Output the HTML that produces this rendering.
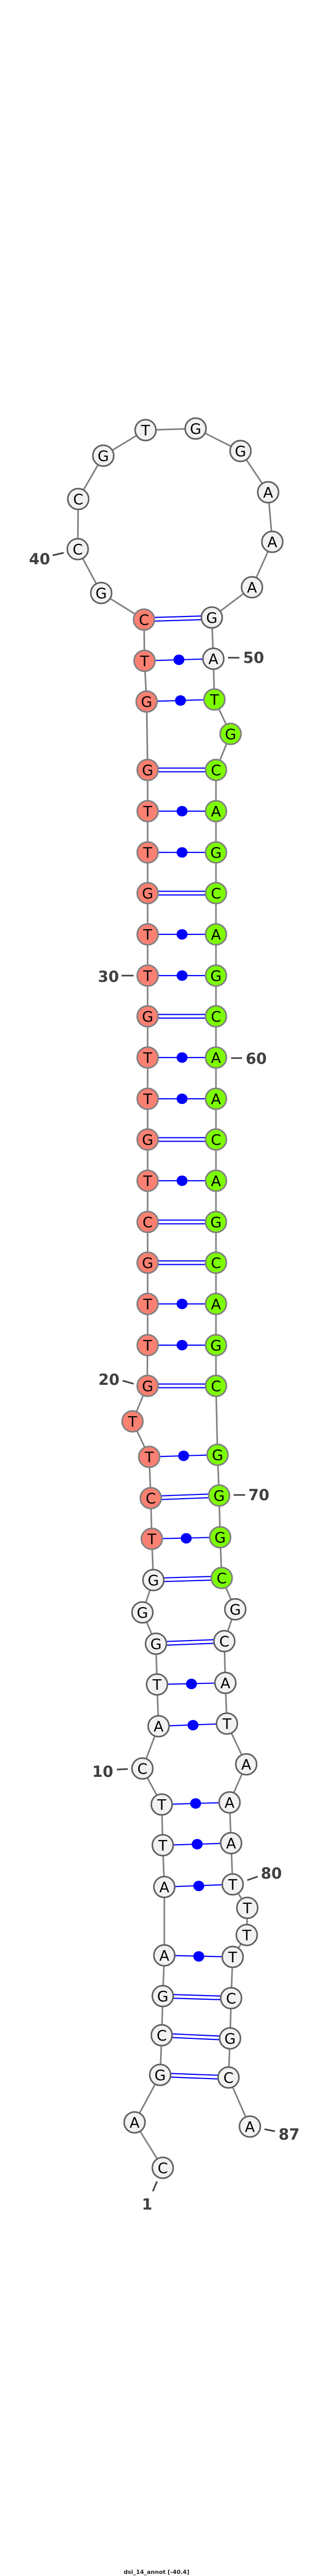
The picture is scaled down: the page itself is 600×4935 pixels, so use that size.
<!DOCTYPE html>
<html><head><meta charset="utf-8"><style>html,body{margin:0;padding:0;background:#fff}svg{display:block}</style></head>
<body>
<svg width="600" height="4935" viewBox="0 0 600 4935" xmlns="http://www.w3.org/2000/svg">
<rect width="600" height="4935" fill="#fff"/>
<!-- backbone -->
<polyline fill="none" stroke="#808080" stroke-width="3" points="
312,4153 258,4066 307,3975 310,3899 312,3824 315,3746 315,3615 312,3535 310,3457 273,3388
304,3307 301,3227 299,3149 273,3089 294,3027 291,2948 289,2870 286,2791 254,2723 282,2655
283,2577 283,2498 283,2419 283,2341 283,2262 283,2183 283,2105 283,2026 283,1947 283,1869 283,1790 283,1711 283,1633 283,1554 283,1475
281,1344 277,1266 276,1187 194,1136 149,1052 150,956 198,873 279,824 375,821 461,864 514,943 522,1038 483,1125 406,1183 409,1262
411,1340 442,1406 414,1475 414,1554 414,1633 414,1711 414,1790 414,1869 414,1947 414,2026 414,2105 414,2183 414,2262 414,2341 414,2419 414,2498 414,2577 414,2655
417,2787 420,2865 422,2945 425,3023 451,3083 430,3144 432,3224 435,3302 472,3380 440,3453 443,3531 446,3610 474,3655 473,3707 446,3749 443,3828 441,3905 438,3980 479,4074"/>
<!-- pairs -->
<g stroke="#0000ff" stroke-width="2.2" fill="none">
<!-- double (GC) -->
<line x1="276" y1="1183.5" x2="406" y2="1179.5"/><line x1="276" y1="1190.5" x2="406" y2="1186.5"/>
<line x1="283" y1="1471.5" x2="414" y2="1471.5"/><line x1="283" y1="1478.5" x2="414" y2="1478.5"/>
<line x1="283" y1="1707.5" x2="414" y2="1707.5"/><line x1="283" y1="1714.5" x2="414" y2="1714.5"/>
<line x1="283" y1="1943.5" x2="414" y2="1943.5"/><line x1="283" y1="1950.5" x2="414" y2="1950.5"/>
<line x1="283" y1="2179.5" x2="414" y2="2179.5"/><line x1="283" y1="2186.5" x2="414" y2="2186.5"/>
<line x1="283" y1="2337.5" x2="414" y2="2337.5"/><line x1="283" y1="2344.5" x2="414" y2="2344.5"/>
<line x1="283" y1="2415.5" x2="414" y2="2415.5"/><line x1="283" y1="2422.5" x2="414" y2="2422.5"/>
<line x1="283" y1="2651.5" x2="414" y2="2651.5"/><line x1="283" y1="2658.5" x2="414" y2="2658.5"/>
<line x1="289" y1="2866.5" x2="420" y2="2861.5"/><line x1="289" y1="2873.5" x2="420" y2="2868.5"/>
<line x1="294" y1="3023.5" x2="425" y2="3019.5"/><line x1="294" y1="3030.5" x2="425" y2="3026.5"/>
<line x1="299" y1="3145.5" x2="430" y2="3140.5"/><line x1="299" y1="3152.5" x2="430" y2="3147.5"/>
<line x1="312" y1="3820.5" x2="443" y2="3824.5"/><line x1="312" y1="3827.5" x2="443" y2="3831.5"/>
<line x1="310" y1="3895.5" x2="441" y2="3901.5"/><line x1="310" y1="3902.5" x2="441" y2="3908.5"/>
<line x1="307" y1="3971.5" x2="438" y2="3976.5"/><line x1="307" y1="3978.5" x2="438" y2="3983.5"/>
<!-- single with dot -->
<line x1="277" y1="1266" x2="409" y2="1262"/>
<line x1="281" y1="1344" x2="411" y2="1340"/>
<line x1="283" y1="1554" x2="414" y2="1554"/>
<line x1="283" y1="1633" x2="414" y2="1633"/>
<line x1="283" y1="1790" x2="414" y2="1790"/>
<line x1="283" y1="1869" x2="414" y2="1869"/>
<line x1="283" y1="2026" x2="414" y2="2026"/>
<line x1="283" y1="2105" x2="414" y2="2105"/>
<line x1="283" y1="2262" x2="414" y2="2262"/>
<line x1="283" y1="2498" x2="414" y2="2498"/>
<line x1="283" y1="2577" x2="414" y2="2577"/>
<line x1="286" y1="2791" x2="417" y2="2787"/>
<line x1="291" y1="2948" x2="422" y2="2945"/>
<line x1="301" y1="3227" x2="432" y2="3224"/>
<line x1="304" y1="3307" x2="435" y2="3302"/>
<line x1="310" y1="3457" x2="440" y2="3453"/>
<line x1="312" y1="3535" x2="443" y2="3531"/>
<line x1="315" y1="3615" x2="446" y2="3610"/>
<line x1="315" y1="3746" x2="446" y2="3749"/>
</g>
<g fill="#0000ff">
<ellipse cx="343" cy="1264" rx="10.5" ry="10"/>
<ellipse cx="346" cy="1342" rx="10.5" ry="10"/>
<ellipse cx="349" cy="1554" rx="10.5" ry="10"/>
<ellipse cx="349" cy="1633" rx="10.5" ry="10"/>
<ellipse cx="349" cy="1790" rx="10.5" ry="10"/>
<ellipse cx="349" cy="1869" rx="10.5" ry="10"/>
<ellipse cx="349" cy="2026" rx="10.5" ry="10"/>
<ellipse cx="349" cy="2105" rx="10.5" ry="10"/>
<ellipse cx="349" cy="2262" rx="10.5" ry="10"/>
<ellipse cx="349" cy="2498" rx="10.5" ry="10"/>
<ellipse cx="349" cy="2577" rx="10.5" ry="10"/>
<ellipse cx="352" cy="2789" rx="10.5" ry="10"/>
<ellipse cx="357" cy="2947" rx="10.5" ry="10"/>
<ellipse cx="367" cy="3226" rx="10.5" ry="10"/>
<ellipse cx="370" cy="3305" rx="10.5" ry="10"/>
<ellipse cx="375" cy="3455" rx="10.5" ry="10"/>
<ellipse cx="378" cy="3533" rx="10.5" ry="10"/>
<ellipse cx="381" cy="3613" rx="10.5" ry="10"/>
<ellipse cx="381" cy="3748" rx="10.5" ry="10"/>
</g>
<!-- nodes -->
<g stroke-width="3" font-family="DejaVu Sans, sans-serif" font-size="28" text-anchor="middle">
<!-- white nodes -->
<g fill="#f2f2f2" stroke="#606060">
<circle cx="312" cy="4153" r="20"/><circle cx="258" cy="4066" r="20"/><circle cx="307" cy="3975" r="20"/><circle cx="310" cy="3899" r="20"/><circle cx="312" cy="3824" r="20"/><circle cx="315" cy="3746" r="20"/><circle cx="315" cy="3615" r="20"/><circle cx="312" cy="3535" r="20"/><circle cx="310" cy="3457" r="20"/><circle cx="273" cy="3388" r="20"/>
<circle cx="304" cy="3307" r="20"/><circle cx="301" cy="3227" r="20"/><circle cx="299" cy="3149" r="20"/><circle cx="273" cy="3089" r="20"/><circle cx="294" cy="3027" r="20"/>
<circle cx="194" cy="1136" r="20"/><circle cx="149" cy="1052" r="20"/><circle cx="150" cy="956" r="20"/><circle cx="198" cy="873" r="20"/><circle cx="279" cy="824" r="20"/><circle cx="375" cy="821" r="20"/><circle cx="461" cy="864" r="20"/><circle cx="514" cy="943" r="20"/><circle cx="522" cy="1038" r="20"/><circle cx="483" cy="1125" r="20"/><circle cx="406" cy="1183" r="20"/><circle cx="409" cy="1262" r="20"/>
<circle cx="451" cy="3083" r="20"/><circle cx="430" cy="3144" r="20"/><circle cx="432" cy="3224" r="20"/><circle cx="435" cy="3302" r="20"/><circle cx="472" cy="3380" r="20"/><circle cx="440" cy="3453" r="20"/><circle cx="443" cy="3531" r="20"/><circle cx="446" cy="3610" r="20"/><circle cx="474" cy="3655" r="20"/><circle cx="473" cy="3707" r="20"/><circle cx="446" cy="3749" r="20"/><circle cx="443" cy="3828" r="20"/><circle cx="441" cy="3905" r="20"/><circle cx="438" cy="3980" r="20"/><circle cx="479" cy="4074" r="20"/>
</g>
<g fill="#fa8072" stroke="#808080">
<circle cx="291" cy="2948" r="20"/><circle cx="289" cy="2870" r="20"/><circle cx="286" cy="2791" r="20"/><circle cx="254" cy="2723" r="20"/>
<circle cx="283" cy="2655" r="20"/><circle cx="283" cy="2577" r="20"/><circle cx="283" cy="2498" r="20"/><circle cx="283" cy="2419" r="20"/><circle cx="283" cy="2341" r="20"/><circle cx="283" cy="2262" r="20"/><circle cx="283" cy="2183" r="20"/><circle cx="283" cy="2105" r="20"/><circle cx="283" cy="2026" r="20"/><circle cx="283" cy="1947" r="20"/><circle cx="283" cy="1869" r="20"/><circle cx="283" cy="1790" r="20"/><circle cx="283" cy="1711" r="20"/><circle cx="283" cy="1633" r="20"/><circle cx="283" cy="1554" r="20"/><circle cx="283" cy="1475" r="20"/>
<circle cx="281" cy="1344" r="20"/><circle cx="277" cy="1266" r="20"/><circle cx="276" cy="1187" r="20"/>
</g>
<g fill="#7cfc00" stroke="#808080">
<circle cx="411" cy="1340" r="20"/><circle cx="442" cy="1406" r="20"/>
<circle cx="414" cy="1475" r="20"/><circle cx="414" cy="1554" r="20"/><circle cx="414" cy="1633" r="20"/><circle cx="414" cy="1711" r="20"/><circle cx="414" cy="1790" r="20"/><circle cx="414" cy="1869" r="20"/><circle cx="414" cy="1947" r="20"/><circle cx="414" cy="2026" r="20"/><circle cx="414" cy="2105" r="20"/><circle cx="414" cy="2183" r="20"/><circle cx="414" cy="2262" r="20"/><circle cx="414" cy="2341" r="20"/><circle cx="414" cy="2419" r="20"/><circle cx="414" cy="2498" r="20"/><circle cx="414" cy="2577" r="20"/><circle cx="414" cy="2655" r="20"/>
<circle cx="417" cy="2787" r="20"/><circle cx="420" cy="2865" r="20"/><circle cx="422" cy="2945" r="20"/><circle cx="425" cy="3023" r="20"/>
</g>
<g fill="#000" stroke="none">
<text x="312" y="4163">C</text><text x="258" y="4076">A</text><text x="307" y="3985">G</text><text x="310" y="3909">C</text><text x="312" y="3834">G</text><text x="315" y="3756">A</text><text x="315" y="3625">A</text><text x="312" y="3545">T</text><text x="310" y="3467">T</text><text x="273" y="3398">C</text>
<text x="304" y="3317">A</text><text x="301" y="3237">T</text><text x="299" y="3159">G</text><text x="273" y="3099">G</text><text x="294" y="3037">G</text><text x="291" y="2958">T</text><text x="289" y="2880">C</text><text x="286" y="2801">T</text><text x="254" y="2733">T</text><text x="283" y="2665">G</text>
<text x="283" y="2587">T</text><text x="283" y="2508">T</text><text x="283" y="2429">G</text><text x="283" y="2351">C</text><text x="283" y="2272">T</text><text x="283" y="2193">G</text><text x="283" y="2115">T</text><text x="283" y="2036">T</text><text x="283" y="1957">G</text><text x="283" y="1879">T</text><text x="283" y="1800">T</text><text x="283" y="1721">G</text><text x="283" y="1643">T</text><text x="283" y="1564">T</text><text x="283" y="1485">G</text>
<text x="281" y="1354">G</text><text x="277" y="1276">T</text><text x="276" y="1197">C</text><text x="194" y="1146">G</text><text x="149" y="1062">C</text><text x="150" y="966">C</text><text x="198" y="883">G</text><text x="279" y="834">T</text><text x="375" y="831">G</text><text x="461" y="874">G</text><text x="514" y="953">A</text><text x="522" y="1048">A</text><text x="483" y="1135">A</text><text x="406" y="1193">G</text><text x="409" y="1272">A</text>
<text x="411" y="1350">T</text><text x="442" y="1416">G</text><text x="414" y="1485">C</text><text x="414" y="1564">A</text><text x="414" y="1643">G</text><text x="414" y="1721">C</text><text x="414" y="1800">A</text><text x="414" y="1879">G</text><text x="414" y="1957">C</text><text x="414" y="2036">A</text><text x="414" y="2115">A</text><text x="414" y="2193">C</text><text x="414" y="2272">A</text><text x="414" y="2351">G</text><text x="414" y="2429">C</text><text x="414" y="2508">A</text><text x="414" y="2587">G</text><text x="414" y="2665">C</text>
<text x="417" y="2797">G</text><text x="420" y="2875">G</text><text x="422" y="2955">G</text><text x="425" y="3033">C</text><text x="451" y="3093">G</text><text x="430" y="3154">C</text><text x="432" y="3234">A</text><text x="435" y="3312">T</text><text x="472" y="3390">A</text><text x="440" y="3463">A</text><text x="443" y="3541">A</text><text x="446" y="3620">T</text><text x="474" y="3665">T</text><text x="473" y="3717">T</text><text x="446" y="3759">T</text><text x="443" y="3838">C</text><text x="441" y="3915">G</text><text x="438" y="3990">C</text><text x="479" y="4084">A</text>
</g>
</g>
<!-- number labels -->
<g stroke="#404040" stroke-width="3">
<line x1="101" y1="1064" x2="122" y2="1059"/>
<line x1="437" y1="1260" x2="459" y2="1260"/>
<line x1="233" y1="1869" x2="256" y2="1869"/>
<line x1="443" y1="2027" x2="464" y2="2027"/>
<line x1="235" y1="2645" x2="256" y2="2651"/>
<line x1="448" y1="2864" x2="470" y2="2864"/>
<line x1="224" y1="3390" x2="245" y2="3389"/>
<line x1="474" y1="3602" x2="494" y2="3595"/>
<line x1="507" y1="4079" x2="527" y2="4083"/>
<line x1="301" y1="4179" x2="293" y2="4198"/>
</g>
<g fill="#404040" font-family="DejaVu Sans, sans-serif" font-weight="bold" font-size="29">
<text x="96" y="1081" text-anchor="end">40</text>
<text x="466" y="1270">50</text>
<text x="228" y="1881" text-anchor="end">30</text>
<text x="471" y="2038">60</text>
<text x="229" y="2653" text-anchor="end">20</text>
<text x="476" y="2874">70</text>
<text x="217" y="3404" text-anchor="end">10</text>
<text x="500" y="3599">80</text>
<text x="534" y="4099">87</text>
<text x="282" y="4233" text-anchor="middle">1</text>
</g>
<text x="300" y="4931" text-anchor="middle" font-family="DejaVu Sans, sans-serif" font-weight="bold" font-size="11" fill="#222">dsi_14_annot [-40.4]</text>
</svg>
</body></html>
